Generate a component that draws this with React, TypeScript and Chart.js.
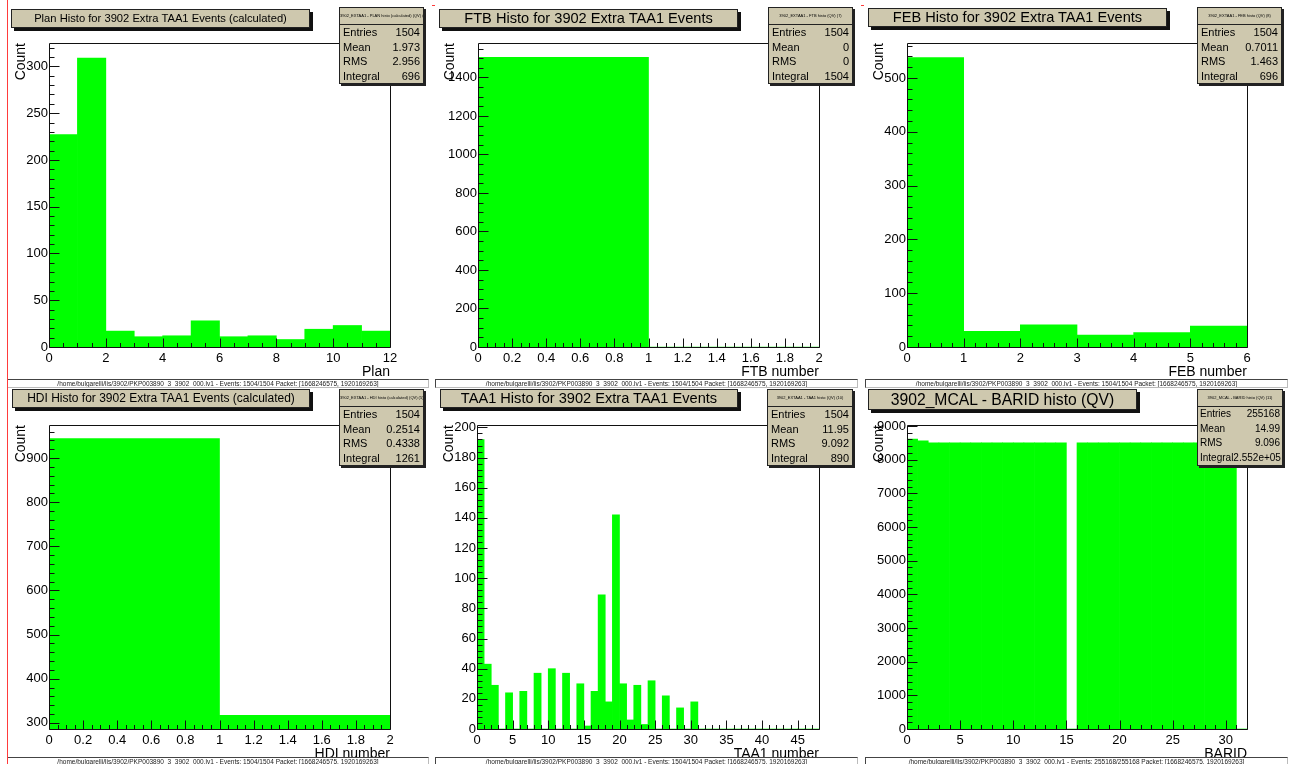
import React, { useEffect, useRef } from 'react';
import { Chart, registerables } from 'chart.js';

Chart.register(...registerables);

// ---------- data (bin contents, bins of unit width) ----------
const planValues = [227, 309, 17, 11, 12, 28, 11, 12, 8, 19, 23, 17]; // bins 0..12
const ftbValues = [1504, 0]; // bins 0..2
const febValues = [538, 29, 41, 22, 27, 39]; // bins 0..6
const hdiValues = [944, 317]; // bins 0..2
const taa1Values = [
  192, 43, 29, 0, 24, 0, 25, 0, 37, 0, 40, 0, 37, 0, 30, 2, 25, 89, 18, 142, 30, 6, 29, 3, 32, 0,
  22, 0, 14, 0, 18, 0, 0, 0, 0, 0, 0, 0, 0, 0, 0, 0, 0, 0, 0, 0, 0, 0,
]; // bins 0..48
const baridValues = [
  8610, 8560, 8500, 8500, 8500, 8500, 8500, 8500, 8500, 8500, 8500, 8500, 8500, 8500, 8500, 0,
  8500, 8500, 8500, 8500, 8500, 8500, 8500, 8500, 8500, 8500, 8500, 8500, 8500, 8500, 8500, 0,
]; // bins 0..32

// ---------- tick labels ----------
const planXTicks = [0, 2, 4, 6, 8, 10, 12];
const planYTicks = [0, 50, 100, 150, 200, 250, 300];
const ftbXTicks = [0, 0.2, 0.4, 0.6, 0.8, 1, 1.2, 1.4, 1.6, 1.8, 2];
const ftbYTicks = [0, 200, 400, 600, 800, 1000, 1200, 1400];
const febXTicks = [0, 1, 2, 3, 4, 5, 6];
const febYTicks = [0, 100, 200, 300, 400, 500];
const hdiXTicks = [0, 0.2, 0.4, 0.6, 0.8, 1, 1.2, 1.4, 1.6, 1.8, 2];
const hdiYTicks = [300, 400, 500, 600, 700, 800, 900];
const taa1XTicks = [0, 5, 10, 15, 20, 25, 30, 35, 40, 45];
const taa1YTicks = [0, 20, 40, 60, 80, 100, 120, 140, 160, 180, 200];
const baridXTicks = [0, 5, 10, 15, 20, 25, 30];
const baridYTicks = [0, 1000, 2000, 3000, 4000, 5000, 6000, 7000, 8000, 9000];

const titles = [
  'Plan Histo for 3902 Extra TAA1 Events (calculated)',
  'FTB Histo for 3902 Extra TAA1 Events',
  'FEB Histo for 3902 Extra TAA1 Events',
  'HDI Histo for 3902 Extra TAA1 Events (calculated)',
  'TAA1 Histo for 3902 Extra TAA1 Events',
  '3902_MCAL - BARID histo (QV)',
];
const statHeaders = [
  '3902_EXTAA1 - PLAN histo (calculated) (QV) (4)',
  '3902_EXTAA1 - FTB histo (QV) (7)',
  '3902_EXTAA1 - FEB histo (QV) (8)',
  '3902_EXTAA1 - HDI histo (calculated) (QV) (5)',
  '3902_EXTAA1 - TAA1 histo (QV) (10)',
  '3902_MCAL - BARID histo (QV) (11)',
];
const statLabels = ['Entries', 'Mean', 'RMS', 'Integral'];
const statValues = [
  ['1504', '1.973', '2.956', '696'],
  ['1504', '0', '0', '1504'],
  ['1504', '0.7011', '1.463', '696'],
  ['1504', '0.2514', '0.4338', '1261'],
  ['1504', '11.95', '9.092', '890'],
  ['255168', '14.99', '9.096', '2.552e+05'],
];
const xTitles = ['Plan', 'FTB number', 'FEB number', 'HDI number', 'TAA1 number', 'BARID'];
const footerEvents = ['1504/1504', '1504/1504', '1504/1504', '1504/1504', '1504/1504', '255168/255168'];

const FONT = '"Liberation Sans", Arial, Helvetica, sans-serif';
const BEIGE = '#cec8ae';

type PanelCfg = {
  values: number[];
  L: number;
  T: number;
  W: number;
  xMin: number;
  xMax: number;
  binW: number;
  yMin: number;
  yMax: number;
  xTicks: number[];
  yTicks: number[];
  xStep: number;
  xMinor: number;
  yStep: number;
  yMinor: number;
  xTitle: string;
};

const panels: PanelCfg[] = [
  { values: planValues, L: 49, T: 43, W: 341, xMin: 0, xMax: 12, binW: 1, yMin: 0, yMax: 325, xTicks: planXTicks, yTicks: planYTicks, xStep: 2, xMinor: 0.5, yStep: 50, yMinor: 10, xTitle: xTitles[0] },
  { values: ftbValues, L: 478, T: 43, W: 341, xMin: 0, xMax: 2, binW: 1, yMin: 0, yMax: 1579, xTicks: ftbXTicks, yTicks: ftbYTicks, xStep: 0.2, xMinor: 0.05, yStep: 200, yMinor: 50, xTitle: xTitles[1] },
  { values: febValues, L: 907, T: 43, W: 340, xMin: 0, xMax: 6, binW: 1, yMin: 0, yMax: 565, xTicks: febXTicks, yTicks: febYTicks, xStep: 1, xMinor: 0.2, yStep: 100, yMinor: 20, xTitle: xTitles[2] },
  { values: hdiValues, L: 49, T: 425, W: 341, xMin: 0, xMax: 2, binW: 1, yMin: 286, yMax: 975, xTicks: hdiXTicks, yTicks: hdiYTicks, xStep: 0.2, xMinor: 0.05, yStep: 100, yMinor: 20, xTitle: xTitles[3] },
  { values: taa1Values, L: 477, T: 425, W: 342, xMin: 0, xMax: 48, binW: 1, yMin: 0, yMax: 201.6, xTicks: taa1XTicks, yTicks: taa1YTicks, xStep: 5, xMinor: 1, yStep: 20, yMinor: 4, xTitle: xTitles[4] },
  { values: baridValues, L: 907, T: 425, W: 340, xMin: 0, xMax: 32, binW: 1, yMin: 0, yMax: 9030, xTicks: baridXTicks, yTicks: baridYTicks, xStep: 5, xMinor: 1, yStep: 1000, yMinor: 200, xTitle: xTitles[5] },
];

const titleBoxes = [
  { left: 11, top: 9, w: 299, h: 19, fs: 11.2 },
  { left: 439, top: 9, w: 299, h: 19, fs: 14.6 },
  { left: 868, top: 8, w: 299, h: 19, fs: 14.6 },
  { left: 12, top: 389, w: 298, h: 19, fs: 12 },
  { left: 440, top: 389, w: 298, h: 19, fs: 14.6 },
  { left: 868, top: 389, w: 269, h: 21, fs: 15.7 },
];
const statBoxes = [
  { left: 339, top: 7, w: 85, fs: 11 },
  { left: 768, top: 7, w: 85, fs: 11 },
  { left: 1197, top: 7, w: 85, fs: 11 },
  { left: 339, top: 389, w: 85, fs: 11 },
  { left: 767, top: 389, w: 86, fs: 11 },
  { left: 1197, top: 389, w: 86, fs: 10 },
];
const footerBoxes = [
  { left: 7, top: 379, w: 422 },
  { left: 435, top: 379, w: 423 },
  { left: 865, top: 379, w: 423 },
  { left: 7, top: 757, w: 422 },
  { left: 435, top: 757, w: 423 },
  { left: 865, top: 757, w: 423 },
];

const rootAxisPlugin = {
  id: 'rootAxis',
  afterDatasetsDraw(chart: any, _args: any, opts: any) {
    const { ctx, chartArea: a, scales } = chart;
    const xs = scales.x;
    const ys = scales.y;
    const left = Math.round(a.left) + 0.5;
    const right = Math.round(a.right) + 0.5;
    const top = Math.round(a.top) + 0.5;
    const bottom = Math.round(a.bottom) + 0.5;
    ctx.save();
    ctx.strokeStyle = '#111';
    ctx.lineWidth = 1;
    ctx.beginPath();
    ctx.moveTo(left, top);
    ctx.lineTo(right, top);
    ctx.lineTo(right, bottom);
    ctx.lineTo(left, bottom);
    ctx.closePath();
    ctx.stroke();

    const isMajor = (v: number, step: number) => Math.abs(v / step - Math.round(v / step)) < 1e-6;
    ctx.beginPath();
    const nx = Math.round((xs.max - xs.min) / opts.xMinor);
    for (let i = 0; i <= nx; i++) {
      const v = xs.min + i * opts.xMinor;
      const px = Math.round(xs.getPixelForValue(v)) + 0.5;
      const len = isMajor(v, opts.xStep) ? 9 : 4.5;
      ctx.moveTo(px, bottom);
      ctx.lineTo(px, bottom - len);
    }
    const start = Math.ceil(ys.min / opts.yMinor - 1e-9);
    const end = Math.floor(ys.max / opts.yMinor + 1e-9);
    for (let k = start; k <= end; k++) {
      const v = k * opts.yMinor;
      const py = Math.round(ys.getPixelForValue(v)) + 0.5;
      const len = isMajor(v, opts.yStep) ? 10 : 5;
      ctx.moveTo(left, py);
      ctx.lineTo(left + len, py);
    }
    ctx.stroke();
    ctx.restore();
  },
};

const fmt = (v: any) => String(Math.round(Number(v) * 1000) / 1000);

function HistoPanel({ cfg }: { cfg: PanelCfg }) {
  const ref = useRef<HTMLCanvasElement>(null);
  useEffect(() => {
    const canvas = ref.current;
    if (!canvas) return;
    const data = cfg.values.map((v, i) => ({ x: cfg.xMin + (i + 0.5) * cfg.binW, y: v }));
    const padRight = 430 - 49 - cfg.W;
    const chart = new Chart(canvas, {
      type: 'bar',
      data: {
        datasets: [
          {
            data: data as any,
            backgroundColor: '#00ff00',
            borderWidth: 0,
            barThickness: 'flex',
            barPercentage: 1,
            categoryPercentage: 1,
          } as any,
        ],
      },
      options: {
        animation: false,
        responsive: false,
        devicePixelRatio: 1,
        events: [],
        layout: { padding: { left: 0, top: 43, right: padRight, bottom: 0 } },
        plugins: {
          legend: { display: false },
          tooltip: { enabled: false },
          rootAxis: { xStep: cfg.xStep, xMinor: cfg.xMinor, yStep: cfg.yStep, yMinor: cfg.yMinor },
        } as any,
        scales: {
          x: {
            type: 'linear',
            min: cfg.xMin,
            max: cfg.xMax,
            offset: false,
            grid: { display: false, drawTicks: false },
            border: { display: false },
            afterBuildTicks: (s: any) => {
              s.ticks = cfg.xTicks.map((v) => ({ value: v }));
            },
            ticks: {
              autoSkip: false,
              maxRotation: 0,
              padding: 3.5,
              color: '#000',
              font: { family: FONT, size: 13 },
              callback: fmt,
            },
            title: {
              display: true,
              text: cfg.xTitle,
              align: 'end',
              color: '#000',
              font: { family: FONT, size: 14 },
              padding: { top: 0, bottom: 0 },
            },
            afterFit: (s: any) => {
              s.height = 34;
            },
          },
          y: {
            type: 'linear',
            min: cfg.yMin,
            max: cfg.yMax,
            grid: { display: false, drawTicks: false },
            border: { display: false },
            afterBuildTicks: (s: any) => {
              s.ticks = cfg.yTicks.map((v) => ({ value: v }));
            },
            ticks: {
              autoSkip: false,
              padding: 1,
              color: '#000',
              font: { family: FONT, size: 13 },
              callback: fmt,
            },
            title: {
              display: true,
              text: 'Count',
              align: 'end',
              color: '#000',
              font: { family: FONT, size: 14 },
              padding: { top: 13, bottom: 0 },
            },
            afterFit: (s: any) => {
              s.width = 49;
            },
          },
        } as any,
      },
      plugins: [rootAxisPlugin],
    });
    return () => chart.destroy();
  }, [cfg]);
  return (
    <canvas
      ref={ref}
      width={430}
      height={381}
      style={{ position: 'absolute', left: cfg.L - 49, top: cfg.T - 43, width: 430, height: 381 }}
    />
  );
}

export default function App() {
  return (
    <div
      style={{
        position: 'fixed',
        left: 0,
        top: 0,
        width: 1290,
        height: 764,
        overflow: 'hidden',
        background: '#fff',
        fontFamily: FONT,
        color: '#000',
      }}
    >
      {panels.map((p, i) => (
        <HistoPanel key={i} cfg={p} />
      ))}

      {titleBoxes.map((b, i) => (
        <div
          key={'t' + i}
          style={{
            position: 'absolute',
            left: b.left,
            top: b.top,
            width: b.w,
            height: b.h,
            boxSizing: 'border-box',
            background: BEIGE,
            border: '1px solid #222',
            boxShadow: '3px 3px 0 #111',
            fontSize: b.fs,
            lineHeight: b.h - 2 + 'px',
            textAlign: 'center',
            whiteSpace: 'nowrap',
            overflow: 'hidden',
          }}
        >
          {titles[i]}
        </div>
      ))}

      {statBoxes.map((b, i) => (
        <div
          key={'s' + i}
          style={{
            position: 'absolute',
            left: b.left,
            top: b.top,
            width: b.w,
            boxSizing: 'border-box',
            background: BEIGE,
            border: '1px solid #222',
            boxShadow: '2px 2px 0 #222',
          }}
        >
          <div
            style={{
              height: 16,
              borderBottom: '1px solid #222',
              fontSize: 4,
              lineHeight: '16px',
              textAlign: 'center',
              whiteSpace: 'nowrap',
              overflow: 'hidden',
            }}
          >
            {statHeaders[i]}
          </div>
          {statLabels.map((lab, j) => (
            <div
              key={lab}
              style={{
                display: 'flex',
                justifyContent: 'space-between',
                height: 14.5,
                lineHeight: '14.5px',
                fontSize: b.fs,
                padding: i === 5 ? '0 2px 0 2px' : '0 3px 0 3px',
                whiteSpace: 'nowrap',
              }}
            >
              <span>{lab}</span>
              <span>{statValues[i][j]}</span>
            </div>
          ))}
        </div>
      ))}

      {footerBoxes.map((b, i) => (
        <div
          key={'f' + i}
          style={{
            position: 'absolute',
            left: b.left,
            top: b.top,
            width: b.w,
            height: 9,
            boxSizing: 'border-box',
            borderTop: '1px solid #444',
            borderLeft: '1px solid #444',
            borderRight: '1px solid #bbb',
            borderBottom: '1px solid #bbb',
            fontSize: 6.5,
            lineHeight: '7px',
            textAlign: 'center',
            whiteSpace: 'nowrap',
            overflow: 'hidden',
            color: '#222',
          }}
        >
          {'/home/bulgarelli/lis/3902/PKP003890_3_3902_000.lv1 - Events: ' +
            footerEvents[i] +
            '  Packet: [1668246575, 1920169263]'}
        </div>
      ))}

      <div style={{ position: 'absolute', left: 7, top: 0, width: 1, height: 764, background: '#ff3b3b' }} />
      <div style={{ position: 'absolute', left: 432, top: 5, width: 3, height: 1, background: '#ff3b3b' }} />
      <div style={{ position: 'absolute', left: 861, top: 5, width: 3, height: 1, background: '#ff3b3b' }} />
    </div>
  );
}
